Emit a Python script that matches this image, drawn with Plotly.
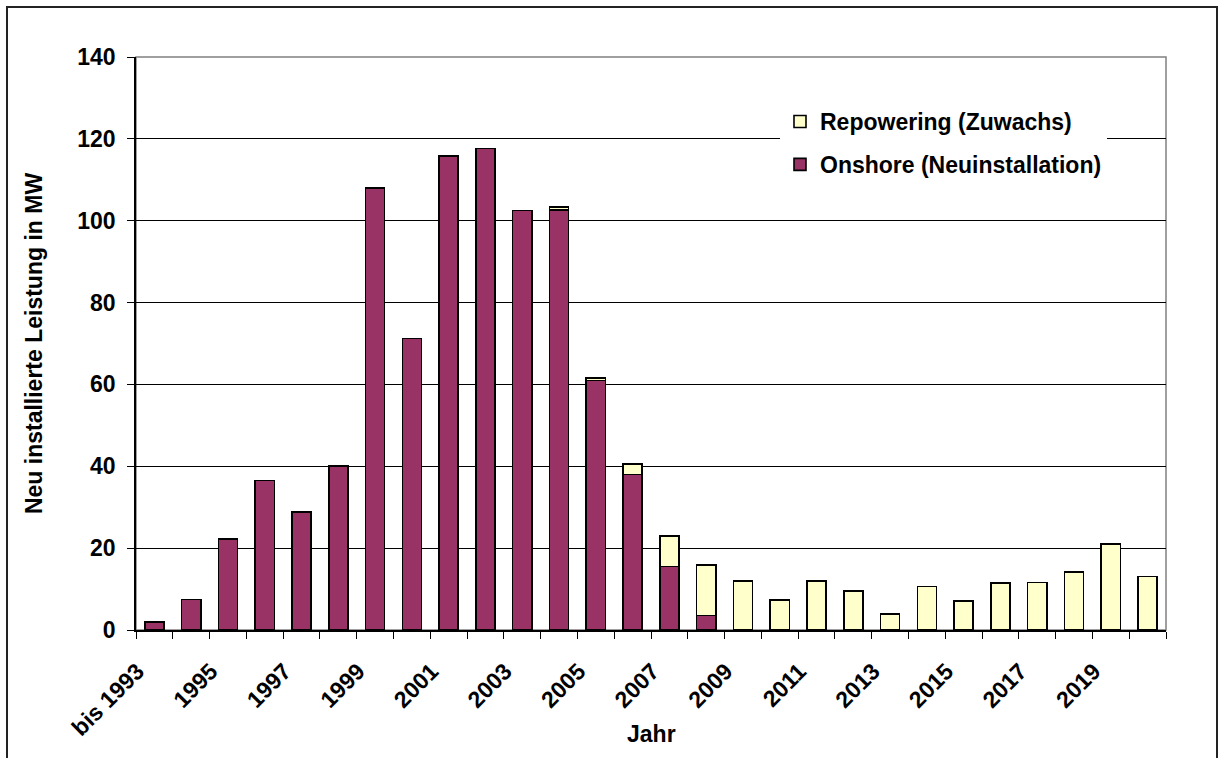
import plotly.graph_objects as go

years = ["bis 1993", "1994", "1995", "1996", "1997", "1998", "1999", "2000",
         "2001", "2002", "2003", "2004", "2005", "2006", "2007", "2008",
         "2009", "2010", "2011", "2012", "2013", "2014", "2015", "2016",
         "2017", "2018", "2019", "2020"]
onshore = [2.0, 7.5, 22.3, 36.5, 28.9, 40.1, 108.0, 71.2, 115.8, 117.6, 102.5,
           102.6, 61.0, 38.0, 15.5, 3.5, None, None, None, None, None, None,
           None, None, None, None, None, None]
repowering = [None, None, None, None, None, None, None, None, None, None, None,
              0.7, 0.6, 2.5, 7.5, 12.4, 12.0, 7.3, 12.0, 9.5, 3.9, 10.6, 7.1,
              11.5, 11.6, 14.2, 21.0, 13.1]
y_ticks = [0, 20, 40, 60, 80, 100, 120, 140]

FONT = "Liberation Sans, Arial, sans-serif"
xs = list(range(len(years)))
label_idx = xs[::2][:14]

fig = go.Figure()
fig.add_trace(go.Bar(
    x=xs, y=onshore, name="Onshore (Neuinstallation)",
    legendgroup="on", legendrank=2,
    marker=dict(color="#993366", line=dict(color="#000000", width=1.6)),
))
fig.add_trace(go.Bar(
    x=xs, y=repowering, name="Repowering (Zuwachs)",
    legendgroup="rep", legendrank=1,
    marker=dict(color="#FFFFCC", line=dict(color="#000000", width=1.6)),
))

W, H = 1218, 758
ml, mr, mt, mb = 136, 52, 57, 128
pw, ph = W - ml - mr, H - mt - mb

def px_x(p):
    return (p - ml) / pw

def px_y(p):
    return (H - mb - p) / ph

fig.update_layout(
    width=W, height=H, autosize=False,
    margin=dict(l=ml, r=mr, t=mt, b=mb, pad=0, autoexpand=False),
    paper_bgcolor="white", plot_bgcolor="white",
    barmode="stack", bargap=0.48,
    font=dict(family=FONT, color="black"),
    showlegend=True,
    legend=dict(
        x=px_x(780), y=px_y(100), xanchor="left", yanchor="top",
        bgcolor="white", borderwidth=0,
        traceorder="grouped", tracegroupgap=10,
        font=dict(family=FONT, size=23, weight="bold", color="black"),
    ),
    xaxis=dict(
        automargin=False,
        range=[-0.5, len(years) - 0.5],
        tickmode="array", tickvals=label_idx,
        ticktext=[years[i] for i in label_idx],
        tickangle=-45, ticks="",
        ticklabelstandoff=17, ticklabelshift=-17,
        tickfont=dict(family=FONT, size=23, weight="bold", color="black"),
        showgrid=False, zeroline=False,
        showline=True, linecolor="black", linewidth=1.5,
        minor=dict(tickmode="array",
                   tickvals=[i - 0.5 for i in range(len(years) + 1)],
                   ticks="outside", ticklen=7, tickcolor="black",
                   tickwidth=1, showgrid=False),
    ),
    yaxis=dict(
        automargin=False,
        range=[0, 140], tickmode="array", tickvals=y_ticks,
        ticks="outside", ticklen=7, tickcolor="black", tickwidth=1,
        tickfont=dict(family=FONT, size=23, weight="bold", color="black"),
        showgrid=True, gridcolor="black", gridwidth=1,
        zeroline=False, showline=True, linecolor="black", linewidth=1.5,
        ticklabelstandoff=7,
        title=dict(text="Neu installierte Leistung in MW",
                   font=dict(family=FONT, size=23, weight="bold"),
                   standoff=28),
    ),
    annotations=[
        dict(text="Jahr", xref="paper", yref="paper",
             x=0.5, y=px_y(734), xanchor="center", yanchor="middle",
             showarrow=False,
             font=dict(family=FONT, size=23, weight="bold", color="black")),
    ],
    shapes=[
        dict(type="rect", xref="paper", yref="paper",
             x0=0, x1=1, y0=0, y1=1,
             line=dict(color="#808080", width=1.5), layer="below"),
        dict(type="rect", xref="paper", yref="paper",
             x0=px_x(7), x1=px_x(1217), y0=px_y(775), y1=px_y(7),
             line=dict(color="#222222", width=2), fillcolor="rgba(0,0,0,0)"),
    ],
)

fig.write_html("out.html",
               config={"displayModeBar": False},
               post_script="document.body.style.margin='0';"
                           "document.body.style.overflow='hidden';")
